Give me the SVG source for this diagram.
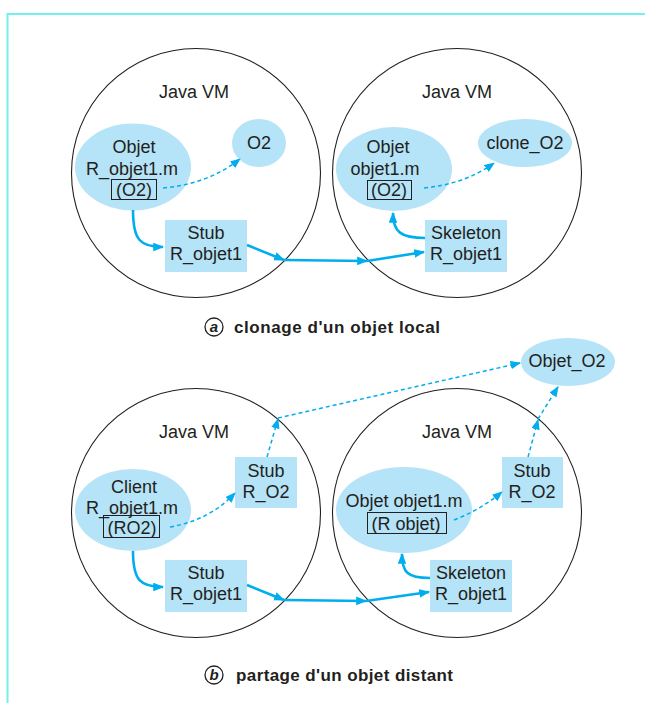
<svg xmlns="http://www.w3.org/2000/svg" width="645" height="703" viewBox="0 0 645 703">
  <style>
    text { font-family: "Liberation Sans", Arial, Helvetica, sans-serif; fill: #231f20; }
    .lbl { font-size: 18px; text-anchor: middle; }
    .cap { font-size: 17px; font-weight: bold; }
    .tag { font-size: 15px; font-weight: bold; font-style: italic; text-anchor: middle; }
    .vm { fill: none; stroke: #231f20; stroke-width: 1.1; }
    .obj { fill: #b5e3f7; stroke: none; }
    .param { fill: none; stroke: #231f20; stroke-width: 1; }
    .call { fill: none; stroke: #00aeef; stroke-width: 2.6; marker-end: url(#head); }
    .ref { fill: none; stroke: #00aeef; stroke-width: 1.5; stroke-dasharray: 4 3; marker-end: url(#headS); }
    .frame { fill: none; stroke: #72f0f0; stroke-width: 2; }
  </style>
  <defs>
    <marker id="head" viewBox="0 0 10 8" refX="9" refY="4" markerWidth="4.2" markerHeight="3.4" markerUnits="strokeWidth" orient="auto">
      <path d="M0,0 L10,4 L0,8 Z" fill="#00aeef"/>
    </marker>
    <marker id="headS" viewBox="0 0 10 8" refX="9" refY="4" markerWidth="7" markerHeight="5.6" markerUnits="strokeWidth" orient="auto">
      <path d="M0,0 L10,4 L0,8 Z" fill="#00aeef"/>
    </marker>
  </defs>

  <!-- frame -->
  <path class="frame" d="M645,14 L7.5,14 L7.5,703"/>

  <!-- ===== (a) local cloning ===== -->
  <g id="vm-a-left">
    <circle class="vm" cx="196" cy="173" r="124.5"/>
    <text class="lbl" x="194" y="98">Java VM</text>
  </g>
  <g id="vm-a-right">
    <circle class="vm" cx="457" cy="173" r="124.5"/>
    <text class="lbl" x="457" y="98">Java VM</text>
  </g>
  <g id="a-client">
    <ellipse class="obj" cx="133" cy="167" rx="58" ry="43.5"/>
    <text class="lbl" x="134" y="153">Objet</text>
    <text class="lbl" x="132" y="175">R_objet1.m</text>
    <rect class="param" x="111.5" y="179.5" width="45" height="20"/>
    <text class="lbl" x="134" y="196">(O2)</text>
  </g>
  <g id="a-o2">
    <ellipse class="obj" cx="259" cy="143" rx="27" ry="24"/>
    <text class="lbl" x="259" y="149">O2</text>
  </g>
  <g id="a-stub">
    <rect class="obj" x="165" y="220" width="82" height="52"/>
    <text class="lbl" x="206" y="239">Stub</text>
    <text class="lbl" x="206" y="260">R_objet1</text>
  </g>
  <g id="a-server">
    <ellipse class="obj" cx="394" cy="169" rx="58" ry="42"/>
    <text class="lbl" x="388" y="153">Objet</text>
    <text class="lbl" x="385" y="175">objet1.m</text>
    <rect class="param" x="367.5" y="180.5" width="44" height="19"/>
    <text class="lbl" x="389" y="196">(O2)</text>
  </g>
  <g id="a-clone">
    <ellipse class="obj" cx="525" cy="143" rx="47" ry="24"/>
    <text class="lbl" x="525" y="149">clone_O2</text>
  </g>
  <g id="a-skeleton">
    <rect class="obj" x="425" y="220" width="82" height="52"/>
    <text class="lbl" x="466" y="239">Skeleton</text>
    <text class="lbl" x="466" y="260">R_objet1</text>
  </g>
  <g id="caption-a">
    <circle cx="214" cy="327" r="9" fill="none" stroke="#231f20" stroke-width="1.3"/>
    <text class="tag" x="214" y="332">a</text>
    <text class="cap" x="234" y="332.5" textLength="206" lengthAdjust="spacing">clonage d'un objet local</text>
  </g>

  <!-- ===== (b) sharing a remote object ===== -->
  <g id="vm-b-left">
    <circle class="vm" cx="196" cy="513" r="124.5"/>
    <text class="lbl" x="194" y="438">Java VM</text>
  </g>
  <g id="vm-b-right">
    <circle class="vm" cx="457" cy="513" r="124.5"/>
    <text class="lbl" x="457" y="438">Java VM</text>
  </g>
  <g id="b-objet-o2">
    <ellipse class="obj" cx="568" cy="362" rx="47" ry="24"/>
    <text class="lbl" x="567" y="367">Objet_O2</text>
  </g>
  <g id="b-client">
    <ellipse class="obj" cx="133" cy="510" rx="58" ry="41"/>
    <text class="lbl" x="134" y="493">Client</text>
    <text class="lbl" x="132" y="514">R_objet1.m</text>
    <rect class="param" x="103.5" y="515.5" width="56" height="22"/>
    <text class="lbl" x="132" y="534">(RO2)</text>
  </g>
  <g id="b-stub-o2-left">
    <rect class="obj" x="235" y="457" width="62" height="51"/>
    <text class="lbl" x="266" y="477">Stub</text>
    <text class="lbl" x="266" y="498">R_O2</text>
  </g>
  <g id="b-stub">
    <rect class="obj" x="165" y="560" width="82" height="52"/>
    <text class="lbl" x="206" y="579">Stub</text>
    <text class="lbl" x="206" y="600">R_objet1</text>
  </g>
  <g id="b-server">
    <ellipse class="obj" cx="404" cy="510" rx="68" ry="43"/>
    <text class="lbl" x="404" y="507">Objet objet1.m</text>
    <rect class="param" x="367.5" y="512.5" width="79" height="21"/>
    <text class="lbl" x="406" y="530">(R objet)</text>
  </g>
  <g id="b-stub-o2-right">
    <rect class="obj" x="502" y="457" width="61" height="51"/>
    <text class="lbl" x="532" y="477">Stub</text>
    <text class="lbl" x="532" y="498">R_O2</text>
  </g>
  <g id="b-skeleton">
    <rect class="obj" x="430" y="560" width="82" height="52"/>
    <text class="lbl" x="471" y="579">Skeleton</text>
    <text class="lbl" x="471" y="600">R_objet1</text>
  </g>
  <g id="caption-b">
    <circle cx="214" cy="675" r="9" fill="none" stroke="#231f20" stroke-width="1.3"/>
    <text class="tag" x="214" y="680">b</text>
    <text class="cap" x="236" y="680.5" textLength="217" lengthAdjust="spacing">partage d'un objet distant</text>
  </g>

  <!-- connectors -->
  <g id="connectors">
    <!-- (a) -->
    <path class="call" d="M133,210 C133,240 140,247 163,247"/>
    <path class="ref" d="M163,188 Q208,184 240,159"/>
    <path class="call" d="M247,245 L284,260"/>
    <path class="call" d="M284,260 L367,261"/>
    <path class="call" d="M367,261 L424,252"/>
    <path class="call" d="M425,238 C401,238 393,232 393,213"/>
    <path class="ref" d="M424,188 Q465,184 494,163"/>
    <!-- (b) -->
    <path class="call" d="M133,551 C133,580 140,587 163,587"/>
    <path class="ref" d="M170,527 Q210,520 235,493"/>
    <path class="ref" d="M267,457 L278,419"/>
    <path class="ref" d="M278,418 L520,363"/>
    <path class="call" d="M247,585 L284,600"/>
    <path class="call" d="M284,600 L366,601"/>
    <path class="call" d="M366,601 L429,592"/>
    <path class="call" d="M430,578 C407,578 402,572 402,554"/>
    <path class="ref" d="M454,520 Q480,510 502,492"/>
    <path class="ref" d="M528,457 L538,420"/>
    <path class="ref" d="M538,419 L558,387"/>
  </g>
</svg>
